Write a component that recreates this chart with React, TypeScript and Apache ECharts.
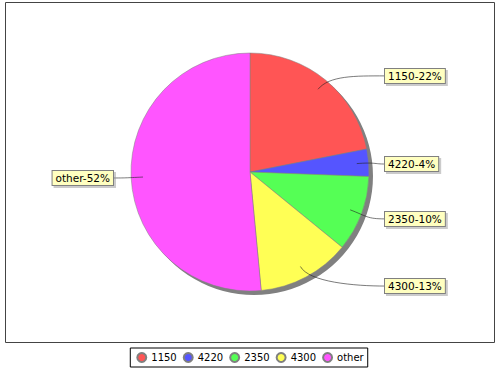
import React, { useEffect, useRef } from 'react';
import * as echarts from 'echarts';

const categories = ['1150', '4220', '2350', '4300', 'other'];
const values = [21.9, 3.7, 10.3, 12.6, 51.5];
const colors = ['#ff5555', '#5555ff', '#55ff55', '#ffff55', '#ff55ff'];

const CX = 250;
const CY = 172;
const R = 119;

function bezier(p0: number[], p1: number[], p2: number[], p3: number[], n: number) {
  const pts: number[][] = [];
  for (let i = 0; i <= n; i++) {
    const t = i / n;
    const a = (1 - t) * (1 - t) * (1 - t);
    const b = 3 * (1 - t) * (1 - t) * t;
    const c = 3 * (1 - t) * t * t;
    const d = t * t * t;
    pts.push([
      a * p0[0] + b * p1[0] + c * p2[0] + d * p3[0],
      a * p0[1] + b * p1[1] + c * p2[1] + d * p3[1],
    ]);
  }
  return pts;
}

export default function App() {
  const ref = useRef<HTMLDivElement>(null);
  useEffect(() => {
    const chart = echarts.init(ref.current!, null, { renderer: 'svg' });
    const total = values.reduce((a, b) => a + b, 0);
    const data = categories.map((name, i) => ({
      name,
      value: values[i],
      itemStyle: { color: colors[i] },
    }));
    const overlayData = categories.map((name, i) => ({
      name,
      value: values[i],
      itemStyle: { color: 'rgba(0,0,0,0)', borderWidth: 0 },
    }));
    const mids: number[] = [];
    let acc = 0;
    values.forEach((v) => {
      const a0 = (acc / total) * Math.PI * 2;
      acc += v;
      const a1 = (acc / total) * Math.PI * 2;
      mids.push((a0 + a1) / 2);
    });

    chart.setOption({
      animation: false,
      backgroundColor: '#ffffff',
      graphic: [
        {
          type: 'rect',
          silent: true,
          z: -10,
          shape: { x: 5.5, y: 2.5, width: 489, height: 340 },
          style: { fill: 'none', stroke: '#444444', lineWidth: 1 },
        },
      ],
      legend: {
        data: categories,
        bottom: 3,
        left: 'center',
        orient: 'horizontal',
        icon: 'circle',
        itemWidth: 9,
        itemHeight: 9,
        itemGap: 6,
        padding: [4, 4, 4, 6],
        borderColor: '#000000',
        borderWidth: 1,
        selectedMode: false,
        textStyle: { fontFamily: 'DejaVu Sans', fontSize: 10, color: '#000000' },
      },
      series: [
        {
          type: 'pie',
          name: 'main',
          z: 2,
          center: [CX, CY],
          radius: R,
          startAngle: 90,
          clockwise: true,
          emphasis: { scale: false },
          data,
          itemStyle: { borderColor: '#808080', borderWidth: 0.5 },
          label: { show: false },
          labelLine: { show: false },
        },
        {
          type: 'pie',
          name: 'labels',
          z: 3,
          silent: true,
          center: [CX, CY],
          radius: R,
          startAngle: 90,
          clockwise: true,
          avoidLabelOverlap: false,
          legendHoverLink: false,
          emphasis: { scale: false },
          data: overlayData,
          label: {
            show: true,
            position: 'outside',
            formatter: (p: any) => `${p.name}-${Math.round((p.value / total) * 100)}%`,
            fontFamily: 'DejaVu Sans',
            fontSize: 10.5,
            color: '#000000',
            backgroundColor: '#ffffc0',
            borderColor: '#808080',
            borderWidth: 1,
            padding: [2, 3, 1, 3],
            shadowColor: 'rgba(151,151,151,0.5)',
            shadowOffsetX: 2,
            shadowOffsetY: 2,
            shadowBlur: 0,
          },
          labelLine: {
            show: true,
            showAbove: true,
            length: 8,
            length2: 10,
            lineStyle: { color: '#222222', width: 0.6 },
          },
          labelLayout: (p: any) => {
            let dx: number;
            let dy: number;
            const pts = p.labelLinePoints;
            if (pts && pts.length) {
              dx = pts[0][0] - CX;
              dy = pts[0][1] - CY;
            } else {
              const m = mids[p.dataIndex];
              dx = Math.sin(m);
              dy = -Math.cos(m);
            }
            const len = Math.hypot(dx, dy) || 1;
            dx /= len;
            dy /= len;
            const right = dx >= 0;
            const ty = CY + dy * 127 + (right ? 2 : 0);
            const tx = right ? 385 : 113;
            const p0 = [CX + dx * R * 0.9, CY + dy * R * 0.9];
            const p1 = [CX + dx * R * 1.05, CY + dy * R * 1.05];
            const p2x = right ? Math.max(p1[0], tx - 30) : Math.min(p1[0], tx + 30);
            const p2 = [p2x, ty];
            const p3 = [tx, ty];
            return {
              x: tx,
              y: ty,
              align: right ? 'left' : 'right',
              verticalAlign: 'middle',
              labelLinePoints: bezier(p0, p1, p2, p3, 16),
            };
          },
        },
        {
          type: 'pie',
          name: 'shadow',
          z: 1,
          silent: true,
          center: [CX + 4, CY + 4],
          radius: R,
          legendHoverLink: false,
          label: { show: false },
          labelLine: { show: false },
          data: [{ name: 'shadow', value: total, itemStyle: { color: '#808080' } }],
        },
      ],
    });
    return () => chart.dispose();
  }, []);
  return (
    <div
      ref={ref}
      style={{ position: 'absolute', left: 0, top: 0, width: 500, height: 370 }}
    />
  );
}
